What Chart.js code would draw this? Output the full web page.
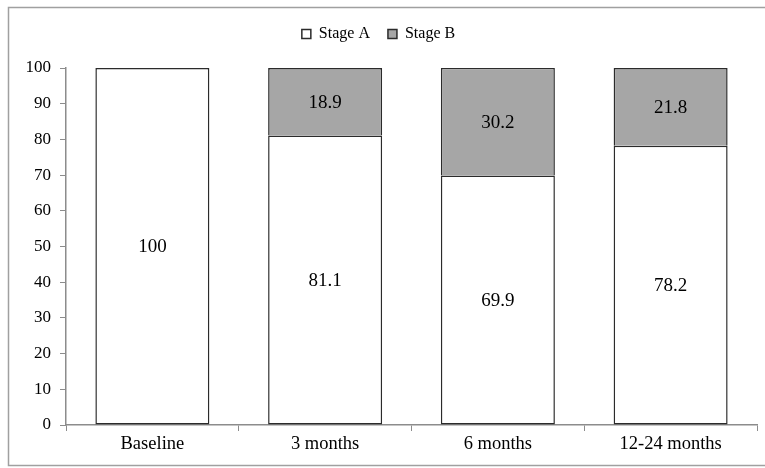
<!DOCTYPE html>
<html>
<head>
<meta charset="utf-8">
<script src="https://cdn.jsdelivr.net/npm/chart.js@4/dist/chart.umd.min.js"></script>
<style>
  html, body { margin: 0; padding: 0; background: #fff; }
  #wrap { width: 765px; height: 468px; }
</style>
</head>
<body>
<div id="wrap"><canvas id="stageChart" width="765" height="468"></canvas></div>
<script>
// --- data ---
const categories = ['Baseline', '3 months', '6 months', '12-24 months'];
const stageA = [100, 81.1, 69.9, 78.2];
const stageB = [0, 18.9, 30.2, 21.8];
const yTicks = [0, 10, 20, 30, 40, 50, 60, 70, 80, 90, 100];

const FONT = '"Liberation Serif", "DejaVu Serif", serif';
const AXIS_GRAY = '#8c8c8c';

// light frame round the whole figure
const framePlugin = {
    id: 'frame',
    beforeDraw(chart) {
        const c = chart.ctx;
        c.save();
        c.fillStyle = '#fff';
        c.fillRect(0, 0, chart.width, chart.height);
        c.strokeStyle = '#a0a0a0';
        c.lineWidth = 1.5;
        c.strokeRect(8.5, 7.5, chart.width + 20, 458);
        c.restore();
    }
};

// extra room under the legend so the plot starts lower
const legendGap = {
    id: 'legendGap',
    beforeLayout(chart) {
        const lg = chart.legend;
        if (!lg || lg._gapPatched) return;
        const fit = lg.fit;
        lg.fit = function () {
            fit.call(this);
            this.height += 16;
        };
        lg._gapPatched = true;
    }
};

// value labels in the middle of each segment
const segmentLabels = {
    id: 'segmentLabels',
    afterDatasetsDraw(chart) {
        const c = chart.ctx;
        c.save();
        c.font = '19px ' + FONT;
        c.fillStyle = '#000';
        c.textAlign = 'center';
        c.textBaseline = 'middle';
        chart.data.datasets.forEach((ds, i) => {
            chart.getDatasetMeta(i).data.forEach((bar, j) => {
                const v = ds.data[j];
                if (!v) return;
                const p = bar.getProps(['x', 'y', 'base'], true);
                c.fillText(String(v), p.x, (p.y + p.base) / 2 + 1);
            });
        });
        c.restore();
    }
};

const ctx = document.getElementById('stageChart').getContext('2d');
new Chart(ctx, {
    type: 'bar',
    data: {
        labels: categories,
        datasets: [{
            label: 'Stage A',
            data: stageA,
            backgroundColor: '#ffffff',
            borderColor: '#2b2b2b',
            borderWidth: 1.5,
            borderSkipped: false,
            categoryPercentage: 1,
            barPercentage: 0.66
        }, {
            label: 'Stage B',
            data: stageB,
            backgroundColor: '#a6a6a6',
            borderColor: '#2b2b2b',
            borderWidth: 1.5,
            borderSkipped: 'bottom',
            categoryPercentage: 1,
            barPercentage: 0.66
        }]
    },
    options: {
        responsive: false,
        animation: false,
        events: [],
        layout: { padding: { left: 0, right: 8, top: 8, bottom: 0 } },
        plugins: {
            legend: {
                display: true,
                position: 'top',
                labels: {
                    font: { family: FONT, size: 16 },
                    color: '#000',
                    boxWidth: 9,
                    boxHeight: 9,
                    padding: 18,
                    useBorderRadius: false
                }
            },
            tooltip: { enabled: false }
        },
        scales: {
            x: {
                stacked: true,
                offset: true,
                afterFit: (scale) => { scale.height = 43; },
                border: { color: AXIS_GRAY, width: 1.5 },
                grid: {
                    offset: true,
                    drawOnChartArea: false,
                    drawTicks: true,
                    tickLength: 6,
                    color: AXIS_GRAY
                },
                ticks: {
                    font: { family: FONT, size: 18.5 },
                    color: '#000',
                    padding: 2
                }
            },
            y: {
                stacked: true,
                min: 0,
                max: 100,
                afterFit: (scale) => { scale.width = 66; },
                afterBuildTicks: (scale) => { scale.ticks = yTicks.map(v => ({ value: v })); },
                border: { color: AXIS_GRAY, width: 1.5 },
                grid: {
                    drawOnChartArea: false,
                    drawTicks: true,
                    tickLength: 6,
                    color: AXIS_GRAY
                },
                ticks: {
                    font: { family: FONT, size: 17 },
                    color: '#000',
                    padding: 9
                }
            }
        }
    },
    plugins: [framePlugin, legendGap, segmentLabels]
});
</script>
</body>
</html>
